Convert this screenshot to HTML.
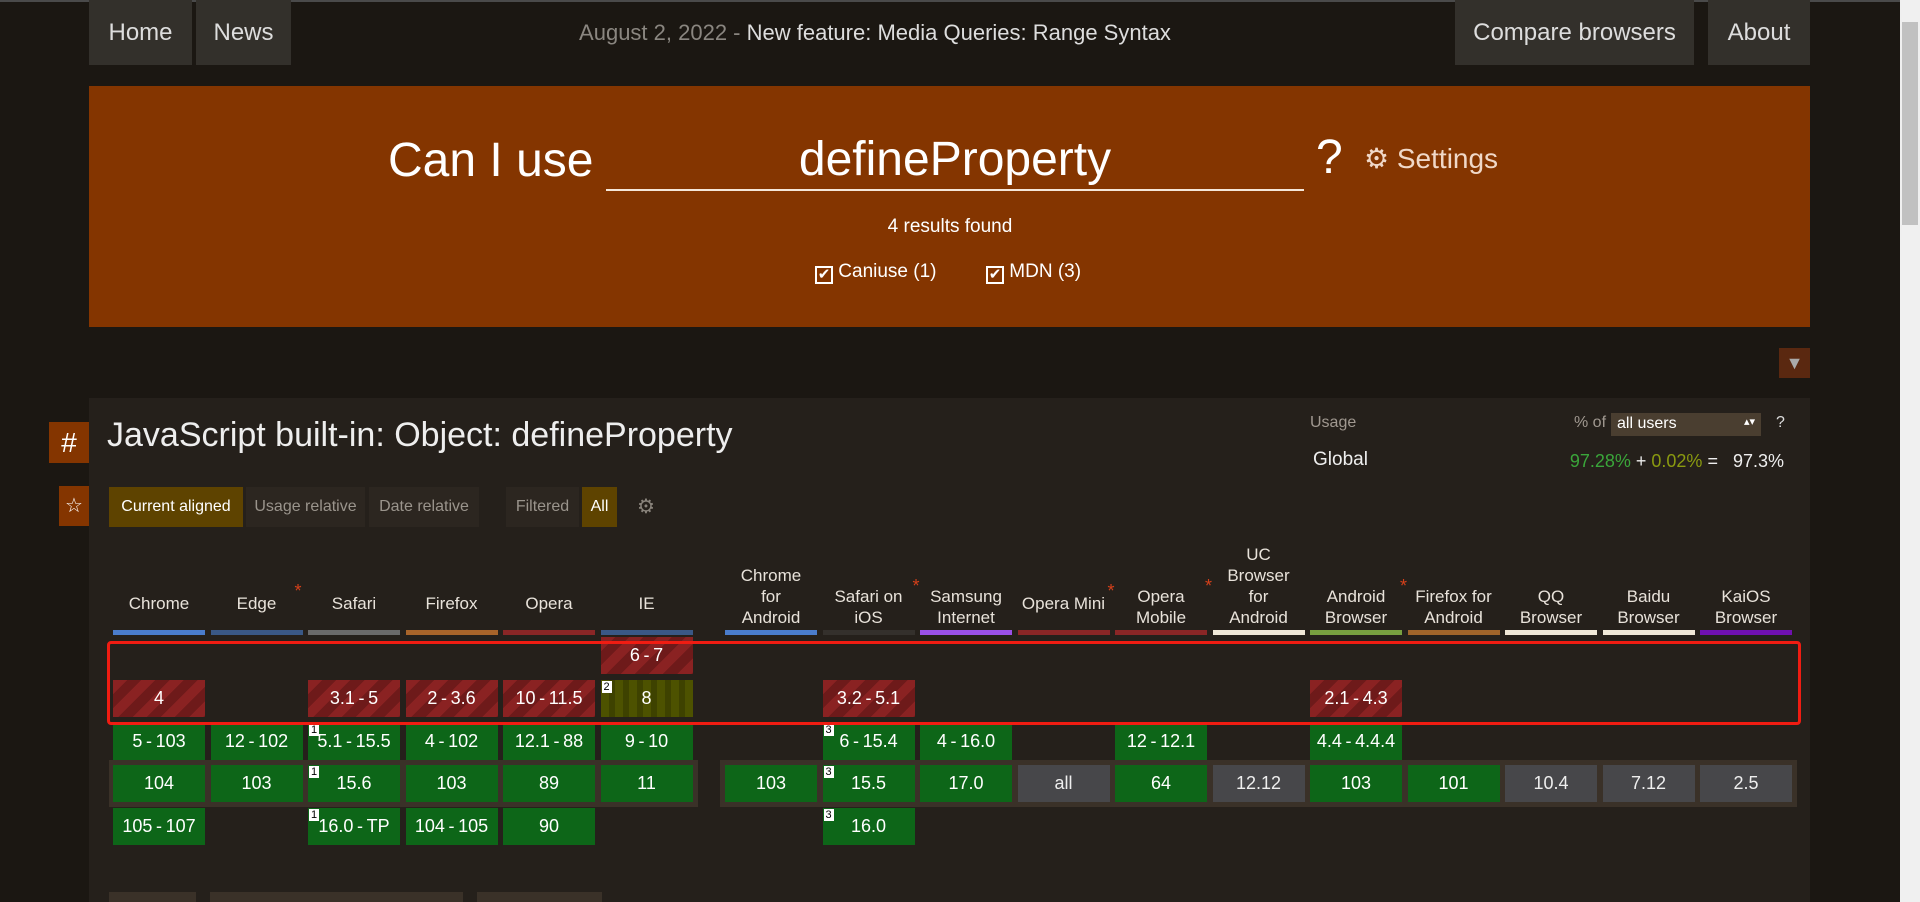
<!DOCTYPE html>
<html><head><meta charset="utf-8"><style>
*{box-sizing:border-box;margin:0;padding:0}
body{width:1920px;height:902px;overflow:hidden;background:#1b1712;font-family:"Liberation Sans",sans-serif;color:#e8e2da;position:relative}
.a{position:absolute}
.nav{background:#33302b;color:#ddd;font-size:24px;display:flex;align-items:center;justify-content:center;top:0;height:65px}
.tb{font-size:16px;display:flex;align-items:center;justify-content:center;top:487px;height:40px;background:#2c2620;color:#9a948c}
.lbl{font-size:17px;line-height:21px;text-align:center;color:#e8e2da;width:98px}
.bar{height:5px;top:630px}
.cell{height:37px;width:92px;font-size:18px;display:flex;align-items:center;justify-content:center;color:#fff}
.y{background:#0d6618}
.n{background:repeating-linear-gradient(135deg,#8a2222 0 10px,#6e1a1a 10px 20px)}
.p{background:repeating-linear-gradient(90deg,#4d5200 0 8px,#3e4200 8px 14px)}
.u{background:#47474a;color:#eee}
.note{position:absolute;left:1px;top:1px;background:#fff;color:#000;font-size:11px;line-height:12px;width:10px;text-align:center}
.ast{color:#d4401a;font-size:18px}
</style></head><body>
<div class="a" style="left:0;top:0;width:1900px;height:2px;background:#4a4a4a"></div>
<div class="a nav" style="left:89px;width:103px">Home</div>
<div class="a nav" style="left:196px;width:95px">News</div>
<div class="a" style="left:560px;width:630px;top:20px;font-size:22px;text-align:center;color:#ddd"><span style="color:#8a8680">August 2, 2022 - </span>New feature: Media Queries: Range Syntax</div>
<div class="a nav" style="left:1455px;width:239px">Compare browsers</div>
<div class="a nav" style="left:1708px;width:102px">About</div>

<div class="a" style="left:89px;top:86px;width:1721px;height:241px;background:#843500"></div>
<div class="a" style="left:388px;top:133px;font-size:48px;color:#fff;font-weight:300">Can I use</div>
<div class="a" style="left:606px;top:124px;width:698px;height:67px;border-bottom:2px solid #f5e6d8;font-size:48px;color:#fff;text-align:center;padding-top:8px">defineProperty</div>
<div class="a" style="left:1316px;top:130px;font-size:48px;color:#fff">?</div>
<div class="a" style="left:1364px;top:142px;font-size:28px;color:#f0d8c8">⚙ Settings</div>
<div class="a" style="left:800px;width:300px;top:216px;text-align:center;font-size:19px;color:#fff">4 results found</div>
<div class="a" style="left:815px;top:261px;font-size:19px;color:#fff"><span style="display:inline-block;width:18px;height:18px;border:2px solid #fff;font-size:15px;line-height:14px;text-align:center;vertical-align:-2px">✔</span> Caniuse (1)</div>
<div class="a" style="left:986px;top:261px;font-size:19px;color:#fff"><span style="display:inline-block;width:18px;height:18px;border:2px solid #fff;font-size:15px;line-height:14px;text-align:center;vertical-align:-2px">✔</span> MDN (3)</div>
<div class="a" style="left:1779px;top:348px;width:31px;height:30px;background:#5a2810;color:#aaa;font-size:18px;text-align:center;line-height:30px">▼</div>

<div class="a" style="left:89px;top:398px;width:1721px;height:504px;background:#25201b"></div>
<div class="a" style="left:49px;top:422px;width:40px;height:41px;background:#843500;color:#fff;font-size:28px;text-align:center;line-height:41px">#</div>
<div class="a" style="left:59px;top:486px;width:30px;height:40px;background:#843500;color:#fff;font-size:20px;text-align:center;line-height:40px">☆</div>
<div class="a" style="left:107px;top:416px;font-size:34px;color:#eee">JavaScript built-in: Object: defineProperty</div>
<div class="a" style="left:1310px;top:414px;font-size:16px;color:#a09890">Usage</div>
<div class="a" style="left:1574px;top:414px;font-size:16px;color:#a09890">% of</div>
<div class="a" style="left:1611px;top:413px;width:150px;height:23px;background:#4a3e30;color:#fff;font-size:16px;padding:2px 6px">all users<span style="float:right;font-size:11px">▴▾</span></div>
<div class="a" style="left:1776px;top:414px;font-size:16px;color:#ddd">?</div>
<div class="a" style="left:1313px;top:449px;font-size:19px;color:#eee">Global</div>
<div class="a" style="left:1542px;top:451px;width:242px;text-align:right;font-size:18px;color:#eee"><span style="color:#3aa53a">97.28%</span> + <span style="color:#8a9a10">0.02%</span> = &nbsp; 97.3%</div>

<div class="a tb" style="left:109px;width:134px;background:#5e4300;color:#fff">Current aligned</div>
<div class="a tb" style="left:246px;width:119px">Usage relative</div>
<div class="a tb" style="left:369px;width:110px">Date relative</div>
<div class="a tb" style="left:506px;width:73px">Filtered</div>
<div class="a tb" style="left:582px;width:35px;background:#5e4300;color:#fff">All</div>
<div class="a" style="left:637px;top:494px;font-size:20px;color:#8a847c">⚙</div>

<div class="a" style="left:109px;top:760px;width:589px;height:47px;background:#3a3128"></div>
<div class="a" style="left:720px;top:760px;width:1077px;height:47px;background:#3a3128"></div>

<div id="table"></div>

<div class="a" style="left:107px;top:641px;width:1694px;height:84px;border:3px solid #f01c12;border-radius:4px"></div>

<div class="a" style="left:109px;top:892px;width:87px;height:10px;background:#3a3128"></div>
<div class="a" style="left:210px;top:892px;width:253px;height:10px;background:#3a3128"></div>
<div class="a" style="left:477px;top:892px;width:125px;height:10px;background:#3a3128"></div>

<div class="a" style="left:1900px;top:0;width:20px;height:902px;background:#f0f0f0"></div>
<div class="a" style="left:1902px;top:22px;width:16px;height:203px;background:#c1c1c1"></div>

<script>
const browsers=["Chrome","Edge","Safari","Firefox","Opera","IE","Chrome|for|Android","Safari on|iOS","Samsung|Internet","Opera Mini","Opera|Mobile","UC|Browser|for|Android","Android|Browser","Firefox for|Android","QQ|Browser","Baidu|Browser","KaiOS|Browser"];
const barColors=["#4a7ccc","#3a5886","#6a6a6a","#a8642a","#8a2626","#3a5886","#4a7ccc","#34302c","#9a50e8","#8a2626","#8a2626","#f0e8d8","#78a040","#a0642a","#f0e8d8","#f0e8d8","#7010b0"];
const asterisks=[1,7,9,10,12];
const cellBrowser=[0,0,0,0,1,1,2,2,2,2,3,3,3,3,4,4,4,4,5,5,5,5,6,7,7,7,7,8,8,9,10,10,11,12,12,12,13,14,15,16];
const cellRow=[1,2,3,4,2,3,1,2,3,4,1,2,3,4,1,2,3,4,0,1,2,3,3,1,2,3,4,2,3,3,2,3,3,1,2,3,3,3,3,3];
const cellText=["4","5-103","104","105-107","12-102","103","3.1-5","5.1-15.5","15.6","16.0-TP","2-3.6","4-102","103","104-105","10-11.5","12.1-88","89","90","6-7","8","9-10","11","103","3.2-5.1","6-15.4","15.5","16.0","4-16.0","17.0","all","12-12.1","64","12.12","2.1-4.3","4.4-4.4.4","103","101","10.4","7.12","2.5"];
const cellSupport=["n","y","y","y","y","y","n","y","y","y","n","y","y","y","n","y","y","y","n","p","y","y","y","n","y","y","y","y","y","u","y","y","u","n","y","y","y","u","u","u"];
const cellNote=["","","","","","","","1","1","1","","","","","","","","","","2","","","","","3","3","3","","","","","","","","","","","","",""];
const T=document.getElementById('table');
function colX(i){return i<6?113+i*97.5:725+(i-6)*97.5;}
function rowY(r){return 637+r*42.8;}
browsers.forEach((b,i)=>{
  const lines=b.split('|');
  const l=document.createElement('div');
  l.className='a lbl';
  
  
  const bottom=lines.length===1?614:628;
  l.style.left=(colX(i)-3)+'px';
  l.style.top=(bottom-lines.length*21)+'px';
  l.innerHTML=lines.join('<br>')+(asterisks.includes(i)?'<span class="ast" style="position:absolute;right:'+(i===1?4:-2)+'px;top:'+(lines.length===1?-12:-10)+'px">*</span>':'');
  T.appendChild(l);
  const bar=document.createElement('div');
  bar.className='a bar';
  
  
  bar.style.left=colX(i)+'px';bar.style.width='92px';bar.style.background=barColors[i];
  T.appendChild(bar);
});
cellText.forEach((t,k)=>{
  const c=document.createElement('div');
  c.className='a cell '+cellSupport[k];
  
  
  c.style.left=colX(cellBrowser[k])+'px';
  c.style.top=rowY(cellRow[k])+'px';
  c.textContent=t.replace(/-/g,'\u2009-\u2009');
  if(cellNote[k]){const s=document.createElement('span');s.className='note';s.textContent=cellNote[k];c.appendChild(s);}
  T.appendChild(c);
});
</script>
</body></html>
